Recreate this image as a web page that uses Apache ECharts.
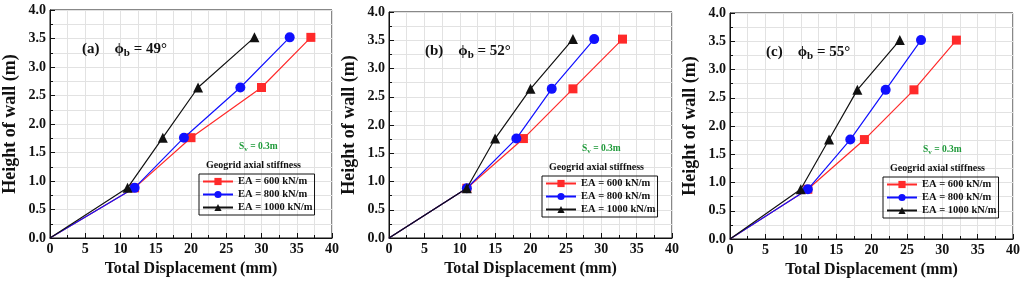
<!DOCTYPE html>
<html>
<head>
<meta charset="utf-8">
<script src="https://cdn.jsdelivr.net/npm/echarts@6/dist/echarts.min.js"></script>
<style>
  html, body { margin: 0; padding: 0; background: #fff; }
  #chart { width: 1024px; height: 283px; }
</style>
</head>
<body>
<div id="chart"></div>
<script>
// wall heights (m) at each reinforcement level
const heights = [0, 0.88, 1.76, 2.64, 3.52];
const seriesNames = ['EA = 600 kN/m', 'EA = 800 kN/m', 'EA = 1000 kN/m'];
const panelTags = ['(a)', '(b)', '(c)'];
const phiValues = ['49°', '52°', '55°'];
const xTicks = [0, 5, 10, 15, 20, 25, 30, 35, 40];
const yTicks = [0, 0.5, 1, 1.5, 2, 2.5, 3, 3.5, 4];

// total displacement (mm), one array per panel and stiffness
const dispA600 = [0, 12, 20, 30, 37];
const dispA800 = [0, 12, 19, 27, 34];
const dispA1000 = [0, 11, 16, 21, 29];
const dispB600 = [0, 11, 19, 26, 33];
const dispB800 = [0, 11, 18, 23, 29];
const dispB1000 = [0, 11, 15, 20, 26];
const dispC600 = [0, 11, 19, 26, 32];
const dispC800 = [0, 11, 17, 22, 27];
const dispC1000 = [0, 10, 14, 18, 24];

const panels = [
  [dispA600, dispA800, dispA1000],
  [dispB600, dispB800, dispB1000],
  [dispC600, dispC800, dispC1000],
];

const FONT = '"Liberation Serif", "Times New Roman", serif';
const colors = ['#ff2a2a', '#1010ff', '#111111'];
const symbols = ['rect', 'circle', 'triangle'];
const symbolSizes = [9, 10, 10];
const boxes = [
  { left: 46, top: 10, width: 286, height: 228 },
  { left: 389, top: 12, width: 283, height: 226 },
  { left: 730, top: 13, width: 283, height: 226 },
];

const chart = echarts.init(document.getElementById('chart'));

const grid = boxes.map(b => ({ ...b, show: true, borderColor: '#111', borderWidth: 1, backgroundColor: 'transparent' }));

const xAxis = boxes.map((b, i) => ({
  type: 'value', gridIndex: i, min: xTicks[0], max: xTicks[xTicks.length - 1], interval: xTicks[1] - xTicks[0],
  name: 'Total Displacement (mm)', nameLocation: 'middle', nameGap: 22,
  nameTextStyle: { fontFamily: FONT, fontWeight: 'bold', fontSize: 16, color: '#111' },
  axisLine: { lineStyle: { color: '#111', width: 1 } },
  axisTick: { inside: true, length: 5, lineStyle: { color: '#111' } },
  minorTick: { show: true, splitNumber: 2, length: 3, lineStyle: { color: '#111' } },
  splitLine: { show: true, lineStyle: { color: '#e2e2e2', width: 1 } },
  minorSplitLine: { show: true, lineStyle: { color: '#e2e2e2', width: 1 } },
  axisLabel: { fontFamily: FONT, fontWeight: 'bold', fontSize: 14, color: '#111', margin: 4 },
}));

const yAxis = boxes.map((b, i) => ({
  type: 'value', gridIndex: i, min: yTicks[0], max: yTicks[yTicks.length - 1], interval: yTicks[1] - yTicks[0],
  name: 'Height of wall (m)', nameLocation: 'middle', nameGap: 31,
  nameTextStyle: { fontFamily: FONT, fontWeight: 'bold', fontSize: 18, color: '#111' },
  axisLine: { lineStyle: { color: '#111', width: 1 } },
  axisTick: { inside: true, length: 5, lineStyle: { color: '#111' } },
  minorTick: { show: true, splitNumber: 2, length: 3, lineStyle: { color: '#111' } },
  splitLine: { show: true, lineStyle: { color: '#e2e2e2', width: 1 } },
  minorSplitLine: { show: true, lineStyle: { color: '#e2e2e2', width: 1 } },
  axisLabel: { fontFamily: FONT, fontWeight: 'bold', fontSize: 14, color: '#111', margin: 4,
    formatter: v => v.toFixed(1) },
}));

const series = [];
panels.forEach((sets, p) => {
  sets.forEach((xs, k) => {
    series.push({
      type: 'line', name: seriesNames[k], xAxisIndex: p, yAxisIndex: p,
      // no marker at the origin point
      data: xs.map((x, j) => j === 0 ? { value: [x, heights[j]], symbolSize: 0 } : [x, heights[j]]),
      symbol: symbols[k], symbolSize: symbolSizes[k], showSymbol: true, showAllSymbol: true,
      itemStyle: { color: colors[k] },
      lineStyle: { color: colors[k], width: 1.2 },
      z: 3 + k,
    });
  });
});

const title = [];
boxes.forEach((b, i) => {
  title.push({
    text: '{t|' + panelTags[i] + '}   {p|ϕ}{s|b}{p| = ' + phiValues[i] + '}',
    left: b.left + 31, top: b.top + 24,
    textStyle: {
      rich: {
        t: { fontFamily: FONT, fontWeight: 'bold', fontSize: 15, color: '#111' },
        p: { fontFamily: FONT, fontWeight: 'bold', fontSize: 15, color: '#111' },
        s: { fontFamily: FONT, fontWeight: 'bold', fontSize: 11, color: '#111', padding: [9, 0, 0, 0] },
      },
    },
  });
  title.push({
    text: '{s|S}{v|v}{s| = 0.3m}',
    left: b.left + 188, top: b.top + 126,
    textStyle: {
      rich: {
        s: { fontFamily: FONT, fontWeight: 'bold', fontSize: 9.5, color: '#1f9a3a' },
        v: { fontFamily: FONT, fontWeight: 'bold', fontSize: 7, color: '#1f9a3a', padding: [5, 0, 0, 0] },
      },
    },
  });
  title.push({
    text: 'Geogrid axial stiffness',
    left: b.left + 155, top: b.top + 145,
    textStyle: { fontFamily: FONT, fontWeight: 'bold', fontSize: 10, color: '#111' },
  });
});

const legend = boxes.map(b => ({
  data: seriesNames, orient: 'vertical',
  left: b.left + 153, top: b.top + 164,
  itemWidth: 30, itemHeight: 9, itemGap: 2,
  padding: [2, 2, 2, 3],
  borderColor: '#111', borderWidth: 1, borderRadius: 0,
  textStyle: { fontFamily: FONT, fontWeight: 'bold', fontSize: 10.5, color: '#111' },
  selectedMode: false,
}));

chart.setOption({
  animation: false,
  backgroundColor: '#fff',
  title, legend, grid, xAxis, yAxis, series,
});
</script>
</body>
</html>
